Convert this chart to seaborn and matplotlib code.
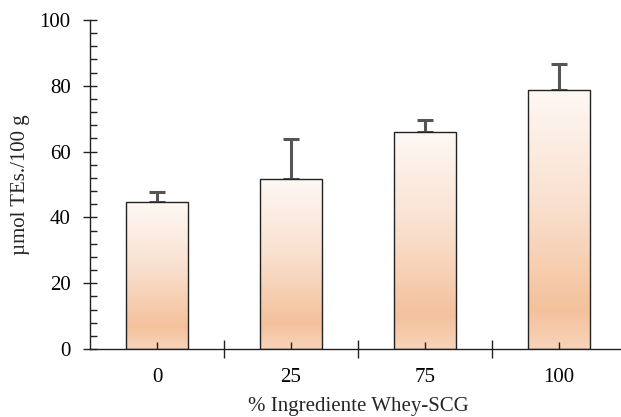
import numpy as np
import pandas as pd
import matplotlib
matplotlib.use("Agg")
import matplotlib.pyplot as plt
from matplotlib.colors import LinearSegmentedColormap
from matplotlib.ticker import MultipleLocator, FixedLocator
import seaborn as sns

categories = ["0", "25", "75", "100"]
means = [44.7, 51.7, 65.9, 78.8]
errors = [3.0, 12.0, 3.6, 7.8]

sns.set_style("white")
plt.rcParams['font.family'] = ['Liberation Serif', 'DejaVu Serif']

fig = plt.figure(figsize=(6.21, 4.17), dpi=100)
ax = fig.add_axes([90/621, (417-349)/417, (626-90)/621, 329/417])

df = pd.DataFrame({"cat": categories, "val": means})
sns.barplot(data=df, x="cat", y="val", ax=ax, color="white", width=0.47,
            edgecolor="#222222", linewidth=1.0, errorbar=None, zorder=3)

cmap = LinearSegmentedColormap.from_list(
    "peach", [(0.0, "#f8d4ba"), (0.15, "#f4c19c"), (0.55, "#f9e0ce"), (1.0, "#fef8f5")])
grad = np.linspace(0, 1, 256).reshape(-1, 1)
for p in ax.patches:
    x0, y0 = p.get_x(), p.get_y()
    w, h = p.get_width(), p.get_height()
    im = ax.imshow(grad, cmap=cmap, origin="lower", aspect="auto",
                   extent=[x0, x0 + w, y0, y0 + h], zorder=2.5)
    im.set_clip_path(p)
    p.set_facecolor("none")

xs = np.arange(len(categories))
ax.errorbar(xs, means, yerr=[np.zeros(len(errors)), errors], fmt="none",
            ecolor="#555555", elinewidth=2.2, capsize=6, capthick=2.2, zorder=2)

ax.set_xlim(-0.5, 3.5)
ax.set_ylim(0, 100)
ax.yaxis.set_major_locator(MultipleLocator(20))
ax.yaxis.set_minor_locator(MultipleLocator(4))
ax.xaxis.set_minor_locator(FixedLocator([0.5, 1.5, 2.5]))

for s in ["top", "right"]:
    ax.spines[s].set_visible(False)
for s in ["left", "bottom"]:
    ax.spines[s].set_color("#222222")
    ax.spines[s].set_linewidth(1.0)
    ax.spines[s].set_zorder(4)
ax.set_axisbelow(False)
ax.xaxis.set_zorder(4)
ax.yaxis.set_zorder(4)

ax.tick_params(axis="y", which="major", direction="inout", length=10, width=1,
               colors="#222222", labelsize=15, pad=9, left=True)
ax.tick_params(axis="y", which="minor", direction="in", length=5, width=1,
               colors="#222222", left=True)
ax.tick_params(axis="x", which="major", direction="in", length=5, width=1,
               colors="#222222", labelsize=15, pad=14, bottom=True)
ax.tick_params(axis="x", which="minor", direction="inout", length=13, width=1,
               colors="#222222", bottom=True)
for lab in ax.get_xticklabels() + ax.get_yticklabels():
    lab.set_color("black")

ax.set_xlabel("% Ingrediente Whey-SCG", fontsize=15, labelpad=7)
ax.set_ylabel("µmol TEs./100 g", fontsize=15, labelpad=7)

fig.savefig("out.png", dpi=100)
